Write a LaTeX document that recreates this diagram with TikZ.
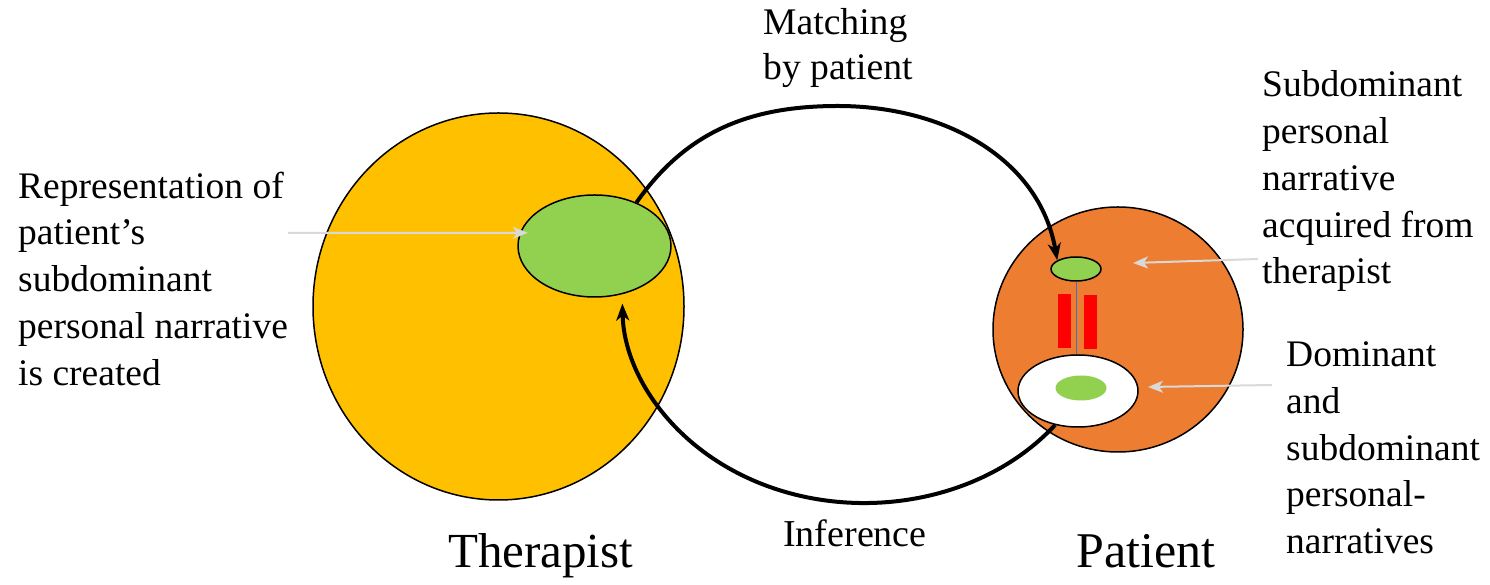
\documentclass[tikz,border=0pt]{standalone}
\usepackage{fontspec}
\setmainfont{Liberation Serif}
\usetikzlibrary{arrows.meta,shapes.geometric}
\definecolor{tyellow}{HTML}{FFC000}
\definecolor{pgreen}{HTML}{92D050}
\definecolor{porange}{HTML}{ED7D31}
\definecolor{pred}{HTML}{FF0000}
\definecolor{pblue}{HTML}{4472C4}
\definecolor{pgrey}{HTML}{D9D9D9}
\begin{document}
\begin{tikzpicture}[x=1pt,y=1pt,
  blob/.style={ellipse, draw=black, line width=1.5pt, inner sep=0pt},
  bar/.style={rectangle, fill=pred, draw=none, minimum width=13pt, minimum height=53.5pt, inner sep=0pt},
  loopline/.style={line width=4pt, -{Stealth[length=17pt,width=13pt,inset=5pt]}},
  pointer/.style={draw=pgrey, line width=2pt, -{Stealth[length=15pt,width=12pt,inset=4pt]}},
  lbl/.style={inner sep=0pt, anchor=base west, align=left, font=\fontsize{37.5}{46.7}\selectfont},
]
\useasboundingbox (0,0) rectangle (1490,585);

% therapist side
\node[blob, fill=tyellow, minimum width=371pt, minimum height=387pt] (therapist) at (498.5,278.5) {};
\node[blob, fill=pgreen, minimum width=153pt, minimum height=102pt] (biggreen) at (594.5,339) {};

% patient side
\node[blob, fill=porange, minimum width=250pt, minimum height=245pt] (patient) at (1118,255.5) {};
\node[blob, fill=pgreen, minimum width=50pt, minimum height=24pt] (smallgreen) at (1076,316) {};
\node[blob, fill=white, minimum width=120pt, minimum height=72pt] (white) at (1078,194) {};
\node[ellipse, fill=pgreen, draw=none, minimum width=51pt, minimum height=25pt, inner sep=0pt] (innergreen) at (1081,197) {};
\node[bar] (barL) at (1064.5,264) {};
\node[bar] (barR) at (1090.5,263) {};
\draw[pblue, line width=1pt] (smallgreen.south) -- (smallgreen.south |- white.north);

% loop arrows
\coordinate (top) at (838,479);
\draw[loopline] (biggreen.46) to[out=55,in=180] (top) to[out=0,in=100] (smallgreen.155);
\draw[loopline] (white.236) arc[start angle=-38, end angle=-179, x radius=242, y radius=203];

% grey pointers
\coordinate (reptail) at (288,352);
\coordinate (subtail) at (1258,326);
\coordinate (subtip) at (1133,322);
\coordinate (domtail) at (1272,200);
\coordinate (domtip) at (1148,198);
\draw[pointer, shorten >=-8pt] (reptail) -- (biggreen.170);
\draw[pointer] (subtail) -- (subtip);
\draw[pointer] (domtail) -- (domtip);

% texts (base anchor = baseline of last line)
\node[lbl] (reptext) at (18,199.9) {Representation of\\patient’s\\subdominant\\personal narrative\\is created};
\node[lbl] (subtext) at (1262,301.2) {Subdominant\\personal\\narrative\\acquired from\\therapist};
\node[lbl] (domtext) at (1286,31.5) {Dominant\\and\\subdominant\\personal-\\narratives};
\node[lbl, font=\fontsize{37.6}{45}\selectfont] (matchtext) at (763,505) {Matching\\by patient};
\node[lbl, font=\fontsize{38}{45}\selectfont] (inftext) at (783,38) {Inference};
\node[lbl, font=\fontsize{49}{55}\selectfont] (therapisttext) at (448,17) {Therapist};
\node[lbl, font=\fontsize{50}{55}\selectfont] (patienttext) at (1076,17) {Patient};
\end{tikzpicture}
\end{document}
